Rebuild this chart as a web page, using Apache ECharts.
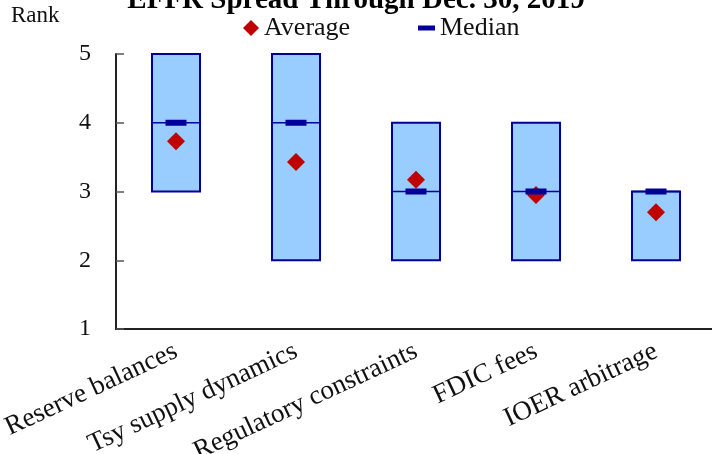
<!DOCTYPE html>
<html>
<head>
<meta charset="utf-8">
<script src="https://cdn.jsdelivr.net/npm/echarts@6/dist/echarts.min.js"></script>
<style>
  html, body { margin: 0; padding: 0; background: #fff; }
  #chart { width: 712px; height: 454px; }
</style>
</head>
<body>
<div id="chart"></div>
<script>
// survey ranks per factor
const categories = ['Reserve balances', 'Tsy supply dynamics', 'Regulatory constraints', 'FDIC fees', 'IOER arbitrage'];
const lowValues = [3, 2, 2, 2, 2];
const highValues = [5, 5, 4, 4, 3];
const medianValues = [4, 4, 3, 3, 3];
const averageValues = [3.73, 3.43, 3.17, 2.95, 2.70];

const FONT = '"Liberation Serif", "Times New Roman", serif';
const NAVY = '#000099';

const boxData = categories.map((c, i) => [i, lowValues[i], highValues[i], medianValues[i]]);

const chart = echarts.init(document.getElementById('chart'));
chart.setOption({
  animation: false,
  title: {
    text: 'EFFR Spread Through Dec. 30, 2019',
    left: 'center',
    top: -19,
    textStyle: { fontFamily: FONT, fontSize: 29, fontWeight: 'bold', color: '#000' }
  },
  graphic: [{
    type: 'text',
    left: 11,
    top: 4,
    style: { text: 'Rank', font: '23px ' + FONT, fill: '#111' }
  }],
  legend: [
    {
      data: [{ name: 'Average', icon: 'diamond' }],
      left: 238,
      top: 10,
      itemWidth: 16,
      itemHeight: 16,
      textStyle: { fontFamily: FONT, fontSize: 26, color: '#111' }
    },
    {
      data: [{ name: 'Median', icon: 'rect' }],
      left: 413,
      top: 10,
      itemWidth: 17,
      itemHeight: 5,
      textStyle: { fontFamily: FONT, fontSize: 26, color: '#111' }
    }
  ],
  grid: { left: 116, right: -4, top: 54, bottom: 125, containLabel: false, outerBoundsMode: 'none' },
  xAxis: {
    type: 'category',
    data: categories,
    axisLine: { lineStyle: { color: '#222', width: 2 } },
    axisTick: { length: 8, lineStyle: { color: '#333', width: 1.5 } },
    axisLabel: {
      rotate: 25,
      margin: 21,
      interval: 0,
      fontFamily: FONT,
      fontSize: 27,
      color: '#111'
    }
  },
  yAxis: {
    type: 'value',
    min: 1,
    max: 5,
    interval: 1,
    splitLine: { show: false },
    axisLine: { show: true, lineStyle: { color: '#222', width: 2 } },
    axisTick: { show: true, inside: true, length: 8, lineStyle: { color: '#555', width: 1.5 } },
    axisLabel: { fontFamily: FONT, fontSize: 24, color: '#111', margin: 25 }
  },
  series: [
    {
      type: 'custom',
      name: 'Range',
      data: boxData,
      encode: { x: 0, y: [1, 2] },
      renderItem: function (params, api) {
        const x = api.value(0);
        const top = api.coord([x, api.value(2)]);
        const bot = api.coord([x, api.value(1)]);
        const med = api.coord([x, api.value(3)]);
        const w = api.size([1, 0])[0] * 0.4;
        return {
          type: 'group',
          children: [
            {
              type: 'rect',
              shape: { x: top[0] - w / 2, y: top[1], width: w, height: bot[1] - top[1] },
              style: { fill: '#99CCFF', stroke: NAVY, lineWidth: 2 }
            },
            {
              type: 'line',
              shape: { x1: top[0] - w / 2, y1: med[1], x2: top[0] + w / 2, y2: med[1] },
              style: { stroke: NAVY, lineWidth: 1.5 }
            }
          ]
        };
      },
      z: 1
    },
    {
      type: 'scatter',
      name: 'Median',
      data: medianValues,
      symbol: 'rect',
      symbolSize: [21, 6],
      itemStyle: { color: NAVY, opacity: 1 },
      z: 3
    },
    {
      type: 'scatter',
      name: 'Average',
      data: averageValues,
      symbol: 'diamond',
      symbolSize: 18,
      itemStyle: { color: '#C00000', opacity: 1 },
      z: 2
    }
  ]
});
</script>
</body>
</html>
